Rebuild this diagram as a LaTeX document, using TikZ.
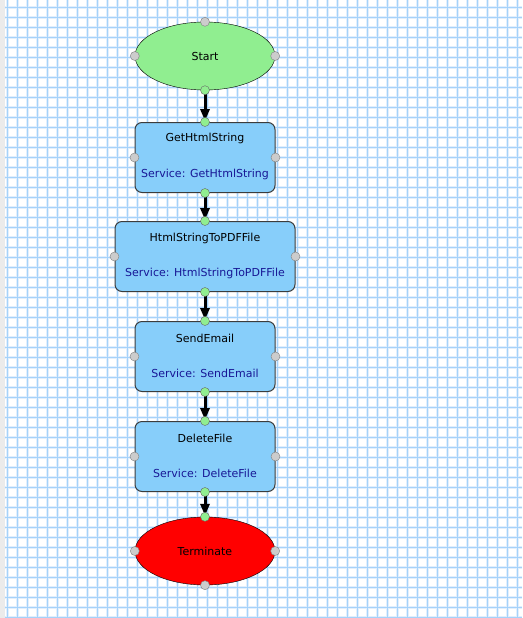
\documentclass[tikz,border=0pt]{standalone}
\usepackage{fontspec}
\setmainfont{DejaVu Sans}
\usetikzlibrary{arrows.meta, shapes.geometric}

\definecolor{gridblue}{RGB}{165,210,250}
\definecolor{gridhalo}{RGB}{226,239,253}
\definecolor{startgreen}{RGB}{144,238,144}
\definecolor{taskblue}{RGB}{135,206,250}
\definecolor{portgrey}{RGB}{204,204,204}
\definecolor{portgreen}{RGB}{144,238,144}
\definecolor{servicetext}{RGB}{24,24,150}
\definecolor{edgegrey}{RGB}{60,60,60}

\begin{document}
\begin{tikzpicture}[
    x=1pt, y=-1pt,
    font=\fontsize{11}{13}\selectfont,
    terminal/.style={
        ellipse, draw=black, thin, minimum width=140pt, minimum height=68pt,
        inner sep=0pt
    },
    task/.style={
        rectangle, rounded corners=7pt, draw=edgegrey, line width=1pt,
        fill=taskblue, minimum height=70pt, inner sep=0pt
    },
    title/.style={text=black},
    service/.style={text=servicetext},
    port/.style={circle, draw=gray, fill=portgrey, minimum size=9pt, inner sep=0pt},
    link/.style={circle, draw=gray!80!black, fill=portgreen, minimum size=9pt, inner sep=0pt},
    flow/.style={-{Triangle[length=12pt,width=9pt]}, line width=3pt, shorten >=1pt},
]

% Grid
\useasboundingbox (0,0) rectangle (522,618);
\fill[white] (0,0) rectangle (522,618);
\fill[black!8] (0,0) rectangle (5,618);
\foreach \g in {7,17,...,517} {
    \fill[gridhalo] (\g-1,0) rectangle ++(3,618);
}
\foreach \g in {7,17,...,617} {
    \fill[gridhalo] (5,\g-1) rectangle (522,\g+2);
}
\foreach \g in {7,17,...,517} {
    \fill[gridblue] (\g,0) rectangle ++(1,618);
}
\foreach \g in {7,17,...,617} {
    \fill[gridblue] (5,\g) rectangle (522,\g+1);
}

% Nodes
\node[terminal, fill=startgreen] (start) at (205,56) {Start};

\node[task, minimum width=140pt] (get) at (205,157.5) {};
\node[title] at (205,138) {GetHtmlString};
\node[service] at (205,174) {Service: GetHtmlString};

\node[task, minimum width=180pt] (pdf) at (205,256.5) {};
\node[title] at (205,238) {HtmlStringToPDFFile};
\node[service] at (205,273) {Service: HtmlStringToPDFFile};

\node[task, minimum width=140pt] (mail) at (205,356.5) {};
\node[title] at (205,338) {SendEmail};
\node[service] at (205,373) {Service: SendEmail};

\node[task, minimum width=140pt] (del) at (205,456.5) {};
\node[title] at (205,438) {DeleteFile};
\node[service] at (205,473) {Service: DeleteFile};

\node[terminal, fill=red] (term) at (205,551) {Terminate};

% Edges
\draw[flow] (start.south) -- (get.north);
\draw[flow] (get.south) -- (pdf.north);
\draw[flow] (pdf.south) -- (mail.north);
\draw[flow] (mail.south) -- (del.north);
\draw[flow] (del.south) -- (term.north);

% Ports
\foreach \n in {start, get, pdf, mail, del, term} {
    \node[port] at (\n.west) {};
    \node[port] at (\n.east) {};
}
\node[port] at (start.north) {};
\node[port] at (term.south) {};
\foreach \n in {start, get, pdf, mail, del} {
    \node[link] at (\n.south) {};
}
\foreach \n in {get, pdf, mail, del, term} {
    \node[link] at (\n.north) {};
}

\end{tikzpicture}
\end{document}
